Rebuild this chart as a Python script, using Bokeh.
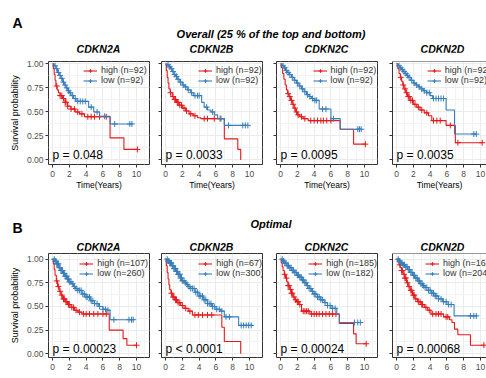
import numpy as np
from bokeh.plotting import figure
from bokeh.models import (FixedTicker, Legend, LegendItem, Label, Div, Range1d,
                          NumeralTickFormatter, Span)
from bokeh.layouts import column, row
from bokeh.embed import file_html
from bokeh.resources import INLINE

# ---------------- data ----------------
GENES = ["CDKN2A", "CDKN2B", "CDKN2C", "CDKN2D"]
TITLE_A = "Overall (25 % of the top and bottom)"
TITLE_B = "Optimal"
A_PVALS = ["p = 0.048", "p = 0.0033", "p = 0.0095", "p = 0.0035"]
B_PVALS = ["p = 0.00023", "p < 0.0001", "p = 0.00024", "p = 0.00068"]
A_N_HIGH = [92, 92, 92, 92]
A_N_LOW = [92, 92, 92, 92]
B_N_HIGH = [107, 67, 185, 163]
B_N_LOW = [260, 300, 182, 204]

X_TICKS = [0, 2, 4, 6, 8, 10]
X_MINOR = [1, 3, 5, 7, 9, 11]
Y_TICKS = [0, 0.25, 0.5, 0.75, 1.0]
Y_MINOR = [0.125, 0.375, 0.625, 0.875]

# Overall -- CDKN2A
A2A_high_t = [0, 0.1, 0.2, 0.3, 0.4, 0.55, 0.7, 0.9, 1.2, 1.5, 1.8, 2.2, 2.7, 3.2, 3.8, 6.85, 8.5, 10.1]
A2A_high_s = [1, 0.95, 0.89, 0.83, 0.77, 0.73, 0.70, 0.67, 0.64, 0.60, 0.56, 0.53, 0.50, 0.48, 0.45, 0.23, 0.11, 0.11]
A2A_high_c = [0.5, 0.9, 1.1, 1.3, 1.5, 1.6, 1.8, 2.2, 2.6, 3.0, 3.5, 4.2, 4.6, 5.0, 5.6, 6.4, 10.1]
A2A_low_t = [0, 0.2, 0.4, 0.6, 0.8, 1.0, 1.2, 1.4, 1.6, 1.8, 2.0, 2.2, 2.5, 2.8, 4.3, 4.9, 5.6, 6.85, 9.45]
A2A_low_s = [1, 0.98, 0.95, 0.91, 0.88, 0.85, 0.81, 0.78, 0.75, 0.72, 0.70, 0.67, 0.64, 0.61, 0.55, 0.50, 0.455, 0.375, 0.375]
A2A_low_c = [0.3, 0.5, 0.7, 0.9, 1.1, 1.3, 1.5, 1.7, 1.9, 2.1, 2.4, 2.7, 3.0, 3.3, 3.6, 3.9, 4.6, 5.3, 6.2, 7.4, 9.2, 9.45]

# Overall -- CDKN2B
A2B_high_t = [0, 0.1, 0.2, 0.3, 0.4, 0.55, 0.8, 1.0, 1.3, 1.6, 2.0, 2.4, 2.8, 3.3, 3.8, 4.2, 7.0, 8.6, 8.95]
A2B_high_s = [1, 0.93, 0.86, 0.80, 0.74, 0.70, 0.66, 0.63, 0.60, 0.57, 0.54, 0.51, 0.48, 0.46, 0.44, 0.43, 0.22, 0.11, 0.0]
A2B_high_c = [0.6, 0.9, 1.1, 1.2, 1.4, 1.5, 1.7, 1.9, 2.2, 2.5, 3.0, 3.5, 4.6, 5.0, 5.8, 6.5]
A2B_low_t = [0, 0.2, 0.4, 0.6, 0.8, 1.0, 1.2, 1.4, 1.7, 2.0, 2.3, 2.6, 3.0, 3.3, 4.3, 4.6, 5.0, 5.4, 5.8, 6.2, 7.0, 9.8]
A2B_low_s = [1, 0.99, 0.97, 0.95, 0.92, 0.89, 0.87, 0.84, 0.81, 0.78, 0.76, 0.73, 0.70, 0.67, 0.60, 0.55, 0.52, 0.50, 0.47, 0.43, 0.36, 0.36]
A2B_low_c = [0.3, 0.5, 0.7, 0.9, 1.1, 1.3, 1.5, 1.8, 2.1, 2.4, 2.7, 3.1, 3.5, 3.8, 4.0, 4.9, 5.6, 6.6, 7.5, 9.2, 9.5, 9.8]

# Overall -- CDKN2C
A2C_high_t = [0, 0.1, 0.25, 0.4, 0.55, 0.7, 0.85, 1.0, 1.2, 1.4, 1.6, 1.8, 2.0, 2.3, 2.7, 3.3, 7.1, 8.7, 10.1]
A2C_high_s = [1, 0.96, 0.90, 0.84, 0.78, 0.73, 0.69, 0.66, 0.62, 0.58, 0.54, 0.50, 0.47, 0.45, 0.43, 0.41, 0.32, 0.165, 0.165]
A2C_high_c = [0.9, 1.1, 1.3, 1.5, 1.7, 1.9, 2.1, 2.5, 2.9, 3.6, 4.0, 4.4, 4.8, 5.1, 5.5, 6.0, 10.1]
A2C_low_t = [0, 0.2, 0.4, 0.6, 0.8, 1.0, 1.3, 1.6, 1.9, 2.2, 2.5, 2.8, 3.1, 3.4, 3.7, 4.0, 4.6, 6.0, 7.1, 9.6]
A2C_low_s = [1, 0.98, 0.96, 0.93, 0.91, 0.89, 0.86, 0.83, 0.80, 0.77, 0.74, 0.71, 0.68, 0.66, 0.64, 0.62, 0.53, 0.43, 0.32, 0.32]
A2C_low_c = [0.3, 0.5, 0.7, 0.9, 1.1, 1.4, 1.7, 2.0, 2.3, 2.6, 2.9, 3.2, 3.5, 3.8, 4.1, 4.3, 5.0, 5.4, 6.3, 9.2, 9.4, 9.6]

# Overall -- CDKN2D
A2D_high_t = [0, 0.15, 0.3, 0.45, 0.6, 0.75, 0.9, 1.1, 1.3, 1.6, 2.0, 2.4, 2.8, 3.3, 3.8, 4.2, 5.9, 7.0, 10.2]
A2D_high_s = [1, 0.95, 0.90, 0.86, 0.82, 0.78, 0.74, 0.70, 0.66, 0.62, 0.58, 0.55, 0.52, 0.49, 0.46, 0.41, 0.36, 0.18, 0.18]
A2D_high_c = [0.5, 0.8, 1.0, 1.2, 1.4, 1.5, 1.7, 1.9, 2.2, 2.6, 3.0, 3.6, 4.4, 4.8, 5.2, 6.4, 7.3, 10.2]
A2D_low_t = [0, 0.2, 0.4, 0.6, 0.8, 1.0, 1.2, 1.4, 1.7, 2.0, 2.3, 2.6, 2.9, 3.2, 3.6, 4.0, 4.3, 5.9, 6.9, 9.5]
A2D_low_s = [1, 0.98, 0.96, 0.94, 0.92, 0.90, 0.88, 0.86, 0.83, 0.80, 0.78, 0.76, 0.74, 0.72, 0.70, 0.67, 0.64, 0.52, 0.27, 0.27]
A2D_low_c = [0.3, 0.5, 0.7, 0.9, 1.1, 1.3, 1.5, 1.8, 2.1, 2.4, 2.7, 3.0, 3.3, 3.6, 3.9, 4.4, 4.7, 5.0, 5.3, 5.6, 9.2, 9.5]

# Optimal -- CDKN2A
B2A_high_t = [0, 0.1, 0.2, 0.3, 0.45, 0.6, 0.8, 1.0, 1.2, 1.5, 1.8, 2.2, 2.6, 3.0, 3.5, 6.75, 8.4, 8.85, 10.0]
B2A_high_s = [1, 0.95, 0.89, 0.83, 0.77, 0.71, 0.66, 0.62, 0.58, 0.55, 0.52, 0.49, 0.46, 0.44, 0.42, 0.25, 0.16, 0.09, 0.09]
B2A_high_c = [0.5, 0.7, 0.9, 1.1, 1.3, 1.4, 1.6, 1.7, 1.9, 2.0, 2.3, 2.5, 2.8, 3.2, 3.7, 4.0, 4.4, 4.9, 5.4, 6.0, 6.4, 10.0]
B2A_low_t = [0, 0.25, 0.5, 0.75, 1.0, 1.25, 1.5, 1.75, 2.0, 2.25, 2.5, 2.75, 3.0, 3.5, 4.0, 4.5, 5.0, 5.5, 6.0, 6.5, 6.85, 9.6]
B2A_low_s = [1, 0.98, 0.95, 0.91, 0.88, 0.85, 0.82, 0.79, 0.76, 0.74, 0.71, 0.69, 0.67, 0.63, 0.60, 0.56, 0.53, 0.50, 0.47, 0.46, 0.36, 0.36]
B2A_low_c = [0.2, 0.3, 0.4, 0.5, 0.6, 0.7, 0.8, 0.9, 1.0, 1.1, 1.2, 1.3, 1.4, 1.5, 1.6, 1.7, 1.8, 1.9, 2.0, 2.2,
             2.4, 2.6, 2.8, 3.0, 3.2, 3.4, 3.6, 3.8, 4.0, 4.2, 4.4, 4.6, 4.8, 5.0, 5.3, 5.6, 6.0, 6.3, 6.6, 7.3,
             9.1, 9.4, 9.6]

# Optimal -- CDKN2B
B2B_high_t = [0, 0.1, 0.2, 0.3, 0.4, 0.5, 0.65, 0.85, 1.1, 1.4, 1.8, 2.2, 2.7, 3.2, 6.7, 7.0, 8.95]
B2B_high_s = [1, 0.93, 0.86, 0.79, 0.73, 0.68, 0.64, 0.60, 0.57, 0.54, 0.51, 0.48, 0.45, 0.41, 0.28, 0.13, 0.0]
B2B_high_c = [0.7, 0.9, 1.0, 1.2, 1.3, 1.5, 1.7, 2.0, 2.4, 2.9, 3.5, 3.9, 4.4, 5.0, 5.5]
B2B_low_t = [0, 0.25, 0.5, 0.75, 1.0, 1.25, 1.5, 1.75, 2.0, 2.25, 2.5, 2.75, 3.0, 3.5, 4.0, 4.5, 5.0, 5.5, 6.0, 6.5, 7.0, 8.7, 10.4]
B2B_low_s = [1, 0.98, 0.96, 0.93, 0.90, 0.87, 0.84, 0.80, 0.77, 0.75, 0.73, 0.71, 0.69, 0.65, 0.61, 0.57, 0.53, 0.50, 0.47, 0.45, 0.39, 0.30, 0.30]
B2B_low_c = [0.2, 0.3, 0.4, 0.5, 0.6, 0.7, 0.8, 0.9, 1.0, 1.1, 1.2, 1.3, 1.4, 1.5, 1.6, 1.7, 1.8, 1.9, 2.0, 2.2,
             2.4, 2.6, 2.8, 3.0, 3.2, 3.4, 3.6, 3.8, 4.0, 4.2, 4.4, 4.6, 4.8, 5.0, 5.2, 5.4, 5.6, 5.8, 6.1, 6.4,
             6.7, 7.2, 7.6, 9.0, 9.3, 9.6, 9.9, 10.2]

# Optimal -- CDKN2C
B2C_high_t = [0, 0.1, 0.2, 0.3, 0.45, 0.6, 0.75, 0.9, 1.1, 1.3, 1.5, 1.7, 1.9, 2.2, 2.5, 3.5, 7.0, 8.7, 9.0, 10.2]
B2C_high_s = [1, 0.96, 0.92, 0.88, 0.84, 0.80, 0.76, 0.72, 0.68, 0.64, 0.60, 0.57, 0.55, 0.52, 0.45, 0.42, 0.32, 0.21, 0.105, 0.105]
B2C_high_c = [0.5, 0.7, 0.9, 1.0, 1.2, 1.3, 1.4, 1.6, 1.8, 2.0, 2.1, 2.3, 2.7, 2.9, 3.1, 3.3, 3.7, 4.0, 4.3, 4.6,
              5.0, 5.4, 5.8, 6.2, 6.6, 10.2]
B2C_low_t = [0, 0.25, 0.5, 0.75, 1.0, 1.3, 1.6, 1.9, 2.2, 2.5, 2.8, 3.1, 3.4, 3.7, 4.0, 4.4, 4.8, 5.2, 5.6, 6.0, 6.7, 7.0, 9.6]
B2C_low_s = [1, 0.98, 0.96, 0.93, 0.91, 0.88, 0.86, 0.83, 0.81, 0.78, 0.75, 0.72, 0.69, 0.66, 0.63, 0.60, 0.57, 0.54, 0.51, 0.48, 0.42, 0.33, 0.33]
B2C_low_c = [0.2, 0.35, 0.5, 0.65, 0.8, 0.95, 1.1, 1.25, 1.4, 1.55, 1.7, 1.85, 2.0, 2.15, 2.3, 2.45, 2.6, 2.75,
             2.9, 3.05, 3.2, 3.4, 3.6, 3.8, 4.0, 4.2, 4.4, 4.6, 4.8, 5.0, 5.3, 5.6, 5.9, 6.2, 6.5, 8.8, 9.2, 9.5]

# Optimal -- CDKN2D
B2D_high_t = [0, 0.15, 0.3, 0.45, 0.6, 0.8, 1.0, 1.2, 1.4, 1.6, 1.9, 2.2, 2.5, 2.9, 3.3, 3.7, 4.1, 5.6, 6.3, 6.6, 6.9, 7.3, 8.8, 10.4]
B2D_high_s = [1, 0.97, 0.94, 0.91, 0.88, 0.84, 0.80, 0.75, 0.71, 0.67, 0.62, 0.58, 0.55, 0.52, 0.49, 0.46, 0.42, 0.39, 0.36, 0.33, 0.26, 0.20, 0.09, 0.09]
B2D_high_c = [0.4, 0.6, 0.7, 0.9, 1.0, 1.1, 1.3, 1.5, 1.7, 1.8, 2.0, 2.1, 2.3, 2.6, 2.8, 3.0, 3.1, 3.5, 3.9, 4.3,
              4.7, 5.0, 5.3, 5.9, 6.1, 10.4]
B2D_low_t = [0, 0.25, 0.5, 0.75, 1.0, 1.3, 1.6, 1.9, 2.2, 2.5, 2.8, 3.1, 3.4, 3.8, 4.2, 4.6, 5.0, 5.5, 6.0, 6.85, 9.5]
B2D_low_s = [1, 0.98, 0.96, 0.94, 0.92, 0.89, 0.86, 0.83, 0.80, 0.77, 0.74, 0.72, 0.70, 0.67, 0.64, 0.61, 0.58, 0.55, 0.52, 0.40, 0.40]
B2D_low_c = [0.2, 0.35, 0.5, 0.65, 0.8, 0.95, 1.1, 1.25, 1.4, 1.55, 1.7, 1.85, 2.0, 2.15, 2.3, 2.45, 2.6, 2.75,
             2.9, 3.05, 3.2, 3.4, 3.6, 3.8, 4.0, 4.2, 4.4, 4.6, 4.8, 5.0, 5.3, 5.6, 5.9, 6.2, 6.5, 8.8, 9.2, 9.5]

CURVES_A = [((A2A_high_t, A2A_high_s, A2A_high_c), (A2A_low_t, A2A_low_s, A2A_low_c)),
            ((A2B_high_t, A2B_high_s, A2B_high_c), (A2B_low_t, A2B_low_s, A2B_low_c)),
            ((A2C_high_t, A2C_high_s, A2C_high_c), (A2C_low_t, A2C_low_s, A2C_low_c)),
            ((A2D_high_t, A2D_high_s, A2D_high_c), (A2D_low_t, A2D_low_s, A2D_low_c))]
CURVES_B = [((B2A_high_t, B2A_high_s, B2A_high_c), (B2A_low_t, B2A_low_s, B2A_low_c)),
            ((B2B_high_t, B2B_high_s, B2B_high_c), (B2B_low_t, B2B_low_s, B2B_low_c)),
            ((B2C_high_t, B2C_high_s, B2C_high_c), (B2C_low_t, B2C_low_s, B2C_low_c)),
            ((B2D_high_t, B2D_high_s, B2D_high_c), (B2D_low_t, B2D_low_s, B2D_low_c))]

# ---------------- style / layout ----------------
RED = "#E41A1C"
BLUE = "#377EB8"
FONT = "Liberation Sans"
DARK = "#333333"
TICK_COL = "#4D4D4D"

PANEL_W = [155, 113, 116, 102]
PANEL_ML = [48, 6, 8, 8]
PANEL_MR = [6, 6, 7, 0]
FRAME_CENTERS = [98.5, 211.5, 326.5, 442.5]   # page x of each panel's centre (for titles)
X_START = -0.48
PX_PER_YEAR = 8.4

ROW1 = dict(height=140, yrange=(-0.047, 1.025), mbt=9, mbb=28,
            axis_title=True, leg_x=[35, 37, 36.5, 34.7], leg_top=4.0)
ROW2 = dict(height=128, yrange=(-0.04, 1.06), mbt=3, mbb=21,
            axis_title=False, leg_x=[31.3, 37.3, 32.3, 33.0], leg_top=5.3)
LEG_H = 20


def censor_y(t, s, c):
    idx = np.searchsorted(np.asarray(t), np.asarray(c), side="right") - 1
    return np.asarray(s)[idx]


def km_panel(i, pval, curves, n_high, n_low, cfg):
    w, ml, mr = PANEL_W[i], PANEL_ML[i], PANEL_MR[i]
    fw = w - ml - mr
    fh = cfg["height"] - cfg["mbt"] - cfg["mbb"]
    x_end = X_START + fw / PX_PER_YEAR
    last = (i == 3)
    p = figure(width=w, height=cfg["height"], title=None,
               x_range=Range1d(X_START, x_end), y_range=Range1d(*cfg["yrange"]),
               output_backend="svg", toolbar_location=None,
               min_border_left=ml, min_border_right=mr,
               min_border_top=cfg["mbt"], min_border_bottom=cfg["mbb"])
    p.background_fill_color = "white"
    p.border_fill_color = "white"

    if last:
        p.outline_line_color = None
    else:
        p.outline_line_color = DARK
        p.outline_line_width = 1

    # axes
    for ax in (p.xaxis[0], p.yaxis[0]):
        ax.major_tick_line_color = DARK
        ax.major_tick_out = 3
        ax.major_tick_in = 0
        ax.minor_tick_line_color = None
        ax.major_label_text_font = FONT
        ax.major_label_text_font_size = "8.5px"
        ax.major_label_text_color = TICK_COL
        ax.axis_line_color = DARK if last else None
    p.xaxis.ticker = FixedTicker(ticks=X_TICKS, minor_ticks=X_MINOR)
    p.yaxis.ticker = FixedTicker(ticks=Y_TICKS, minor_ticks=Y_MINOR)
    p.yaxis.formatter = NumeralTickFormatter(format="0.00")
    p.xaxis.major_label_standoff = 2
    if cfg["axis_title"]:
        p.xaxis.axis_label = "Time(Years)"
        p.xaxis.axis_label_text_font = FONT
        p.xaxis.axis_label_text_font_size = "8.5px"
        p.xaxis.axis_label_text_font_style = "normal"
        p.xaxis.axis_label_text_color = "black"
        p.xaxis.axis_label_standoff = 0
    else:
        # axis title below the frame; the page edge cuts it as in the original
        p.add_layout(Label(x=fw / 2, y=-18, x_units="screen", y_units="screen",
                           text="Time(Years)", text_font=FONT, text_font_size="8.5px",
                           text_color="black", text_align="center", text_baseline="middle"))
    if i == 0:
        p.yaxis.major_label_standoff = 1
        p.yaxis.axis_label = "Survival probability"
        p.yaxis.axis_label_text_font = FONT
        p.yaxis.axis_label_text_font_size = "9px"
        p.yaxis.axis_label_text_font_style = "normal"
        p.yaxis.axis_label_text_color = "black"
        p.yaxis.axis_label_standoff = 4
    else:
        p.yaxis.major_label_text_color = None
        p.yaxis.major_label_standoff = 0

    if last:
        p.add_layout(Span(location=cfg["yrange"][1], dimension="width",
                          line_color=DARK, line_width=1))

    # grid
    p.xgrid.grid_line_color = "#EBEBEB"
    p.ygrid.grid_line_color = "#EBEBEB"
    p.xgrid.minor_grid_line_color = "#F3F3F3"
    p.ygrid.minor_grid_line_color = "#F3F3F3"

    rends = []
    for (t, s, c), color in ((curves[0], RED), (curves[1], BLUE)):
        ln = p.step(t, s, mode="after", line_color=color, line_width=1.1)
        sc = p.scatter(c, censor_y(t, s, c), marker="cross", size=6,
                       line_color=color, line_width=1)
        rends.append([ln, sc])

    items = [LegendItem(label=f"high (n={n_high})", renderers=rends[0]),
             LegendItem(label=f"low (n={n_low})", renderers=rends[1])]
    loc = (cfg["leg_x"][i], fh - cfg["leg_top"] - LEG_H)
    leg = Legend(items=items, location=loc, margin=0, padding=0,
                 spacing=0, glyph_width=14, glyph_height=9, label_height=9,
                 label_standoff=4, label_text_font=FONT, label_text_font_size="9px",
                 label_text_color=DARK, background_fill_alpha=0,
                 border_line_alpha=0)
    p.add_layout(leg)

    p.add_layout(Label(x=0, y=0.05, text=pval, text_font=FONT, text_font_size="12px",
                       text_color="black", text_align="left", text_baseline="alphabetic"))
    return p


def header(letter, title, height, letter_top, title_top, genes_top):
    spans = [f'<span style="position:absolute;left:12.5px;top:{letter_top}px;font-size:14px;'
             f'font-weight:bold;line-height:1;">{letter}</span>',
             f'<span style="position:absolute;left:171px;width:200px;top:{title_top}px;'
             f'text-align:center;white-space:nowrap;font-size:11px;font-weight:bold;'
             f'font-style:italic;line-height:1;">{title}</span>']
    for g, cx in zip(GENES, FRAME_CENTERS):
        spans.append(f'<span style="position:absolute;left:{cx - 50}px;width:100px;'
                     f'top:{genes_top}px;text-align:center;white-space:nowrap;'
                     f'font-size:10.5px;font-weight:bold;font-style:italic;'
                     f'line-height:1;">{g}</span>')
    html = (f'<div style="position:relative;width:486px;height:{height}px;'
            f'font-family:\'{FONT}\';color:black;">' + "".join(spans) + '</div>')
    return Div(text=html, width=486, height=height, margin=0)


row1 = row([km_panel(i, A_PVALS[i], CURVES_A[i], A_N_HIGH[i], A_N_LOW[i], ROW1)
            for i in range(4)], spacing=0)
row2 = row([km_panel(i, B_PVALS[i], CURVES_B[i], B_N_HIGH[i], B_N_LOW[i], ROW2)
            for i in range(4)], spacing=0)

layout = column([header("A", TITLE_A, 52, 16.2, 28.5, 43.6),
                 row1,
                 header("B", TITLE_B, 58, 28.9, 27.3, 49.8),
                 row2], spacing=0)

open("out.html", "w").write(file_html(layout, INLINE))
